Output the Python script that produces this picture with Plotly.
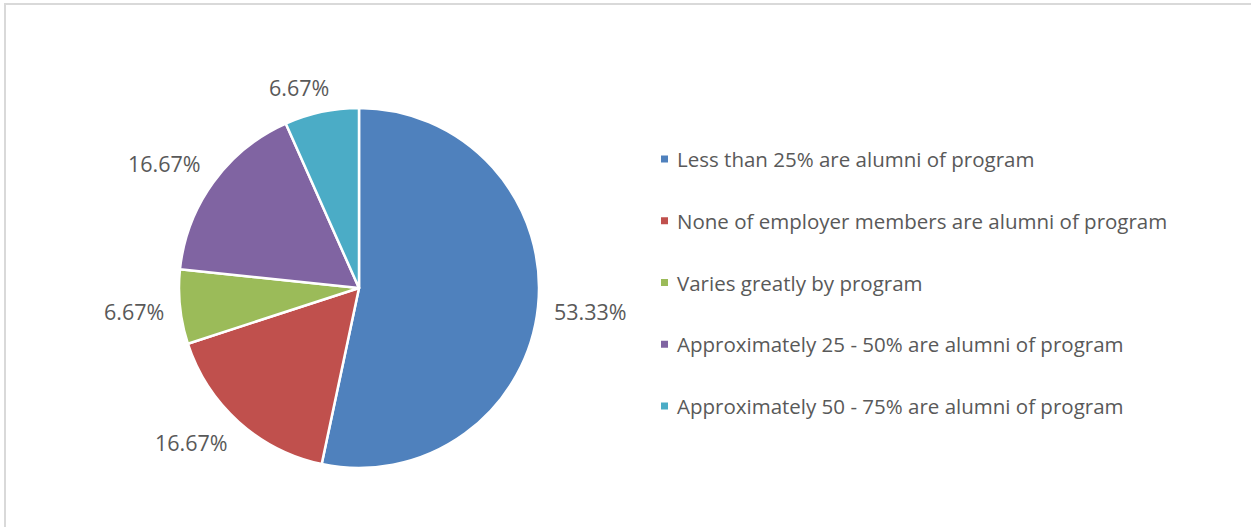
import math
import plotly.graph_objects as go

categories = [
    "Less than 25% are alumni of program",
    "None of employer members are alumni of program",
    "Varies greatly by program",
    "Approximately 25 - 50% are alumni of program",
    "Approximately 50 - 75% are alumni of program",
]
shares = [53.33, 16.67, 6.67, 16.67, 6.67]
colors = ["#4F81BD", "#C0504D", "#9BBB59", "#8064A2", "#4BACC6"]

W, H = 1251, 527
TEXT = "#595959"
FONT = "Open Sans"
LABEL_SIZE = 21.5
LEGEND_SIZE = 20.5

# pie geometry in pixels
CX, CY, R = 359, 288, 180

fig = go.Figure()
fig.add_trace(go.Pie(
    labels=categories,
    values=shares,
    sort=False,
    direction="clockwise",
    rotation=0,
    marker=dict(colors=colors, line=dict(color="white", width=2.5)),
    textinfo="none",
    showlegend=False,
    domain=dict(x=[(CX - R) / W, (CX + R) / W], y=[1 - (CY + R) / H, 1 - (CY - R) / H]),
    hoverinfo="label+value",
))

annotations = []

# data labels placed just outside each slice, around its mid-angle
total = sum(shares)
cum = 0.0
gap = 15
for v in shares:
    mid = (cum + v / 2) / total * 2 * math.pi
    cum += v
    ux, uy = math.sin(mid), -math.cos(mid)
    txt = f"{v:.2f}%"
    hw = len(txt) * 12.4 / 2
    hh = 10
    clip = lambda t: max(-1.0, min(1.0, t))
    xc = CX + ux * (R + gap) + hw * clip(ux * 3)
    yc = CY + uy * (R + gap) + hh * clip(uy * 3)
    annotations.append(dict(xref="paper", yref="paper", x=xc / W, y=1 - yc / H,
                            text=txt, showarrow=False, xanchor="center", yanchor="middle",
                            font=dict(family=FONT, size=LABEL_SIZE, color=TEXT)))

# chart frame
shapes = [dict(type="rect", xref="paper", yref="paper",
               x0=5 / W, x1=1.01, y0=-0.01, y1=1 - 4 / H,
               line=dict(color="#D9D9D9", width=2), fillcolor="rgba(0,0,0,0)")]

# legend entries: coloured square + label
y_first, y_step = 159, 61.75
for i, (name, col) in enumerate(zip(categories, colors)):
    yc = y_first + i * y_step
    shapes.append(dict(type="rect", xref="paper", yref="paper",
                       x0=661 / W, x1=668 / W,
                       y0=1 - (yc + 3.5) / H, y1=1 - (yc - 3.5) / H,
                       fillcolor=col, line=dict(width=0)))
    annotations.append(dict(xref="paper", yref="paper", x=675 / W, y=1 - yc / H,
                            text=name, showarrow=False, xanchor="left", yanchor="middle",
                            font=dict(family=FONT, size=LEGEND_SIZE, color=TEXT)))

fig.update_layout(
    width=W, height=H,
    margin=dict(l=0, r=0, t=0, b=0),
    paper_bgcolor="white",
    shapes=shapes,
    annotations=annotations,
)

fig.write_html("out.html")
